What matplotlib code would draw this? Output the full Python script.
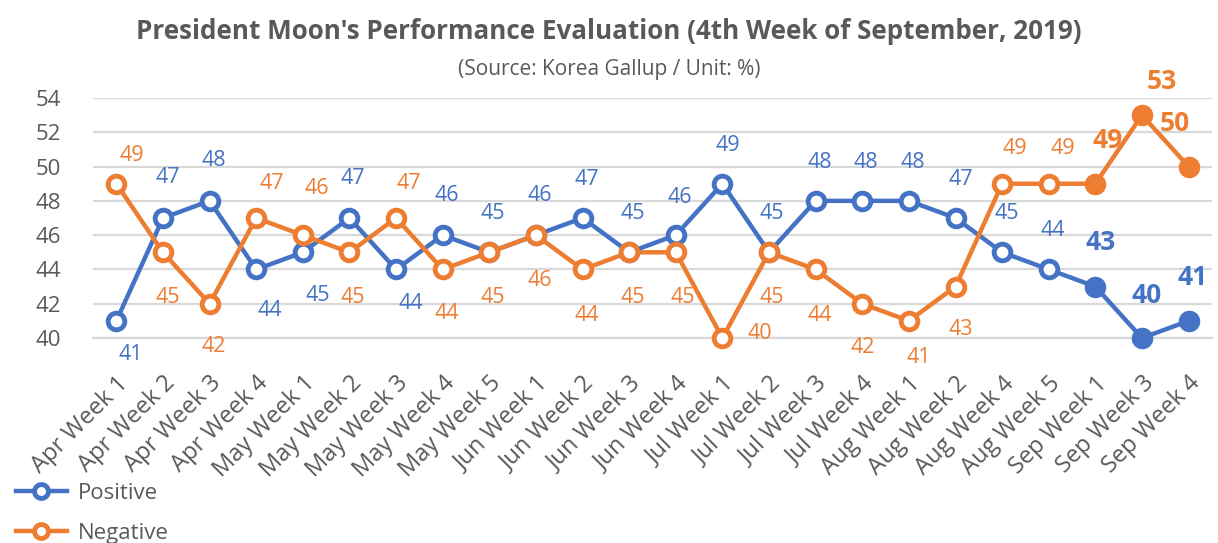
import matplotlib.pyplot as plt
from matplotlib.lines import Line2D

plt.rcParams['font.family'] = ['Open Sans', 'Noto Sans', 'DejaVu Sans']

# data
weeks = ['Apr Week 1', 'Apr Week 2', 'Apr Week 3', 'Apr Week 4',
         'May Week 1', 'May Week 2', 'May Week 3', 'May Week 4', 'May Week 5',
         'Jun Week 1', 'Jun Week 2', 'Jun Week 3', 'Jun Week 4',
         'Jul Week 1', 'Jul Week 2', 'Jul Week 3', 'Jul Week 4',
         'Aug Week 1', 'Aug Week 2', 'Aug Week 4', 'Aug Week 5',
         'Sep Week 1', 'Sep Week 3', 'Sep Week 4']
positive = [41, 47, 48, 44, 45, 47, 44, 46, 45, 46, 47, 45, 46, 49, 45, 48, 48, 48, 47, 45, 44, 43, 40, 41]
negative = [49, 45, 42, 47, 46, 45, 47, 44, 45, 46, 44, 45, 45, 40, 45, 44, 42, 41, 43, 49, 49, 49, 53, 50]
n_highlight = 3  # last weeks drawn filled / bold

# label placement (pixel offsets from the point)
pos_off = [(14, -34), (5, 41), (4, 40), (14, -41), (15, -43), (3, 40), (15, -34), (4, 40),
           (3, 39), (4, 40), (4, 39), (4, 39), (4, 38), (5, 38), (3, 39), (4, 38),
           (4, 38), (4, 38), (5, 39), (5, 39), (4, 39), (5, 44), (5, 43), (4, 43)]
neg_off = [(15, 28), (5, -45), (4, -43), (16, 35), (14, 47), (3, -45), (13, 35), (4, -44),
           (3, -45), (4, -45), (4, -46), (4, -45), (7, -45), (37, 5), (3, -45), (4, -46),
           (0, -44), (10, -37), (5, -43), (13, 35), (14, 35), (12, 43), (20, 34), (-14, 43)]

BLUE = '#4472C4'
ORANGE = '#ED7D31'
GRAY = '#595959'

fig = plt.figure(figsize=(12.18, 5.43), dpi=100)
ax = fig.add_axes([0.0764, 0.3775, 0.9186, 0.442])

x = list(range(len(weeks)))
cut = len(weeks) - n_highlight

for vals, color, offs in [(positive, BLUE, pos_off), (negative, ORANGE, neg_off)]:
    ax.plot(x, vals, color=color, lw=3.2, zorder=3, clip_on=False)
    ax.plot(x[:cut], vals[:cut], 'o', ms=12, mew=3.5, mec=color, mfc='white',
            zorder=4, clip_on=False)
    ax.plot(x[cut:], vals[cut:], 'o', ms=15.5, mew=0, mfc=color, zorder=4, clip_on=False)
    for i, v in enumerate(vals):
        big = i >= cut
        ax.annotate(str(v), (x[i], v), xytext=offs[i], textcoords='offset pixels',
                    ha='center', va='center', color=color,
                    fontsize=19 if big else 15.5,
                    fontweight='bold' if big else 'normal', zorder=5)

ax.set_xlim(-0.5, len(weeks) - 0.5)
ax.set_ylim(40, 54)
ax.set_yticks(range(40, 55, 2))
ax.grid(axis='y', color='#D9D9D9', lw=1.6)
ax.set_axisbelow(True)
for s in ['top', 'right', 'left']:
    ax.spines[s].set_visible(False)
ax.spines['bottom'].set_color('#D9D9D9')
ax.spines['bottom'].set_linewidth(1.6)
ax.tick_params(axis='both', length=0, colors=GRAY)
ax.tick_params(axis='y', pad=23, labelsize=16)
ax.set_xticks(x)
ax.set_xticklabels(weeks, rotation=45, ha='right', rotation_mode='anchor', fontsize=17)
ax.tick_params(axis='x', pad=24)

fig.text(0.5, 0.942, "President Moon's Performance Evaluation (4th Week of September, 2019)",
         ha='center', va='center', fontsize=18.7, fontweight='bold', color=GRAY)
fig.text(0.5, 0.872, "(Source: Korea Gallup / Unit: %)", ha='center', va='center',
         fontsize=15, color=GRAY)

handles = [Line2D([], [], color=BLUE, lw=3.2, marker='o', ms=10, mew=3.5, mfc='white'),
           Line2D([], [], color=ORANGE, lw=3.2, marker='o', ms=10, mew=3.5, mfc='white')]
leg = fig.legend(handles, ['Positive', 'Negative'], loc='upper left',
                 bbox_to_anchor=(0.0, 0.14), frameon=False, fontsize=16,
                 handlelength=2.3, handletextpad=0.5, labelspacing=0.88,
                 borderaxespad=0.3)
for t in leg.get_texts():
    t.set_color(GRAY)

fig.savefig('out.png', dpi=100)
